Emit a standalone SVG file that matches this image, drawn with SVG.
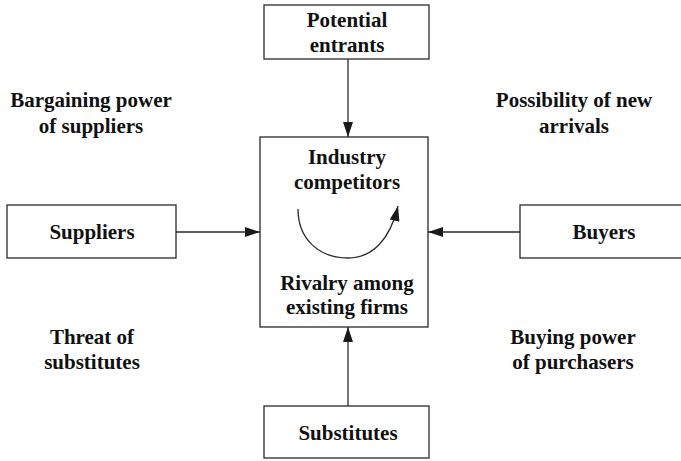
<svg xmlns="http://www.w3.org/2000/svg" width="681" height="461" viewBox="0 0 681 461">
  <style>
    .box { fill: #ffffff; stroke: #2a2a2a; stroke-width: 1.3; }
    .lbl { font-family: 'Liberation Serif', 'DejaVu Serif', serif; font-weight: 700; font-size: 21px; fill: #111111; text-anchor: middle; }
    .link { fill: none; stroke: #2a2a2a; stroke-width: 1.3; marker-end: url(#head); }
  </style>
  <defs>
    <marker id="head" viewBox="0 0 15 10" refX="15" refY="5" markerWidth="15" markerHeight="10" markerUnits="userSpaceOnUse" orient="auto">
      <path d="M0,0 L15,5 L0,10 Z" fill="#1a1a1a"/>
    </marker>
  </defs>

  <rect width="681" height="461" fill="#ffffff"/>

  <!-- free-standing force labels -->
  <g id="label-bargaining">
    <text class="lbl" x="91" y="107">Bargaining power</text>
    <text class="lbl" x="91" y="133">of suppliers</text>
  </g>
  <g id="label-new-arrivals">
    <text class="lbl" x="574" y="107">Possibility of new</text>
    <text class="lbl" x="574" y="133">arrivals</text>
  </g>
  <g id="label-threat">
    <text class="lbl" x="92" y="344">Threat of</text>
    <text class="lbl" x="92" y="369">substitutes</text>
  </g>
  <g id="label-buying-power">
    <text class="lbl" x="573" y="344">Buying power</text>
    <text class="lbl" x="573" y="369">of purchasers</text>
  </g>

  <!-- nodes -->
  <g id="potential-entrants">
    <rect class="box" x="264" y="5" width="165" height="54"/>
    <text class="lbl" x="347" y="27">Potential</text>
    <text class="lbl" x="347" y="52">entrants</text>
  </g>
  <g id="industry-competitors">
    <rect class="box" x="260" y="137" width="168" height="190"/>
    <text class="lbl" x="347" y="164">Industry</text>
    <text class="lbl" x="347" y="189">competitors</text>
    <path class="link" d="M298,209 C298,240 320,258 348,258 C372,258 390,240 398,206"/>
    <text class="lbl" x="347" y="290">Rivalry among</text>
    <text class="lbl" x="347" y="314">existing firms</text>
  </g>
  <g id="suppliers">
    <rect class="box" x="7" y="205" width="169" height="53"/>
    <text class="lbl" x="92" y="239">Suppliers</text>
  </g>
  <g id="buyers">
    <rect class="box" x="520" y="205" width="168" height="53"/>
    <text class="lbl" x="604" y="239">Buyers</text>
  </g>
  <g id="substitutes">
    <rect class="box" x="264" y="406" width="165" height="52"/>
    <text class="lbl" x="348" y="440">Substitutes</text>
  </g>

  <!-- connectors -->
  <g id="connectors">
    <path class="link" d="M348,59 L348,137"/>
    <path class="link" d="M176,232 L260,232"/>
    <path class="link" d="M520,232 L428,232"/>
    <path class="link" d="M348,406 L348,327"/>
  </g>
</svg>
